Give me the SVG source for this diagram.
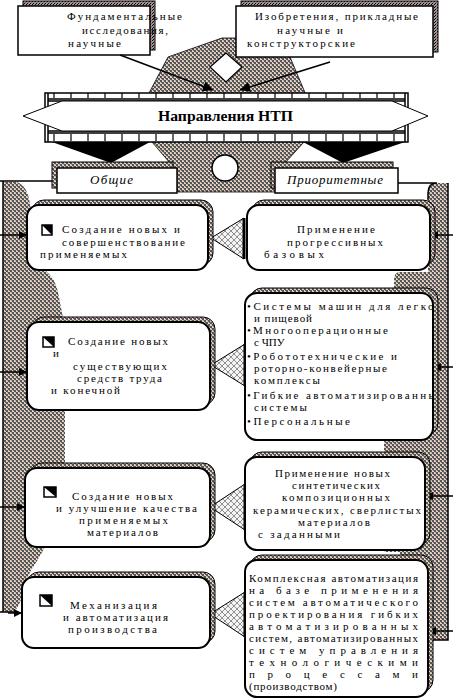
<svg xmlns="http://www.w3.org/2000/svg" width="453" height="700" viewBox="0 0 453 700">
<style>
text{font-family:"Liberation Serif","DejaVu Serif","Times New Roman",serif;font-size:11px;fill:#000}
.it{font-style:italic;font-size:13px}
.b{font-weight:bold;font-size:14px}
.box{fill:#fff;stroke:#000;stroke-width:2}
.sh{fill:url(#stip);stroke:#000;stroke-width:1}
.tbox{fill:#fff;stroke:#000;stroke-width:1.5}
.tsh{fill:url(#dstip);stroke:#000;stroke-width:1}
.con{fill:url(#hatch);stroke:#000;stroke-width:1}
.base{stroke:#000;stroke-width:3;fill:none}
.ln{stroke:#000;stroke-width:1.5;fill:none}
.ico{fill:#fff;stroke:#000;stroke-width:1.5}
.gray{fill:url(#stip)}
.tick{stroke:#000;stroke-width:1.2}
</style>
<defs>
<pattern id="stip" width="4" height="4" patternUnits="userSpaceOnUse">
<rect width="4" height="4" fill="#d6d6d6"/>
<rect width="2" height="2" fill="#555"/>
<rect x="2" y="2" width="2" height="2" fill="#555"/>
<rect x="1" y="2" width="1" height="1" fill="#c04848"/>
<rect x="3" y="0" width="1" height="1" fill="#b8b048"/>
</pattern>
<pattern id="dstip" width="3" height="3" patternUnits="userSpaceOnUse">
<rect width="3" height="3" fill="#9a9a9a"/>
<rect width="1" height="1" fill="#000"/>
<rect x="2" y="1" width="1" height="1" fill="#000"/>
<rect x="1" y="2" width="1" height="1" fill="#c04848"/>
</pattern>
<pattern id="hatch" width="6" height="6" patternUnits="userSpaceOnUse">
<rect width="6" height="6" fill="#f4f4f4"/>
<path d="M0,0 L6,6 M6,0 L0,6" stroke="#777" stroke-width="0.8"/>
</pattern>
<marker id="ah" viewBox="0 0 10 10" refX="10" refY="5" markerWidth="10" markerHeight="8" markerUnits="userSpaceOnUse" orient="auto">
<path d="M0,0 L10,5 L0,10 z" fill="#000"/>
</marker>
<marker id="ah2" viewBox="0 0 10 10" refX="10" refY="5" markerWidth="14" markerHeight="10" markerUnits="userSpaceOnUse" orient="auto">
<path d="M0,0 L10,5 L0,10 z" fill="#000"/>
</marker>
<clipPath id="r2clip"><rect x="240" y="295" width="193" height="140"/></clipPath>
</defs>

<g id="background">
<path class="gray" d="M3,182 L17,182 Q28,186 30,205 L45,270 Q55,278 58,292 L63,318 L65,330 L65,465 L60,470 L45,547 Q38,560 30,572 L24,590 Q20,606 14,612 L3,612 Z"/>
<path class="gray" d="M448,183 L437,183 Q428,183 428,195 L428,272 L400,272 Q394,272 394,280 L394,440 L384,440 L384,552 L400,552 L400,640 L448,640 Z"/>
<path class="ln" d="M0,181 L52,181 M3,181 L3,612 M0,612 L14,612"/>
<path class="ln" d="M398,183 L437,183 Q428,183 428,193 L428,200 M448,183 L448,640 L430,640"/>
</g>

<g id="spine">
<path class="gray" stroke="#000" stroke-width="0.8" d="M222,38 L238,38 L290,57 L306,95 L304,142 L285,163 L275,192 L178,192 L170,163 L152,142 L148,95 L168,57 Z"/>
<circle cx="225" cy="168" r="13" fill="#fff" stroke="#000" stroke-width="1.5"/>
<path d="M226,53 L242,67 L226,82 L210,67 Z" fill="#fff" stroke="#000" stroke-width="1.2"/>
</g>

<g id="banner">
<path d="M52,142 L150,142 L111,163 Z" fill="#000"/>
<path d="M303,142 L405,142 L343,163 Z" fill="#000"/>
<rect x="45" y="93" width="363" height="49" fill="#fff" stroke="#000" stroke-width="1.5"/>
<path class="ln" d="M48,93 L48,142 M405,93 L405,142 M48,99 L405,99 M48,101 L405,101 M48,131 L405,131 M48,133 L405,133"/>
<path class="tick" d="M54,93v5M71,93v5M88,93v5M105,93v5M122,93v5M139,93v5M156,93v5M173,93v5M190,93v5M207,93v5M224,93v5M241,93v5M258,93v5M275,93v5M292,93v5M309,93v5M326,93v5M343,93v5M360,93v5M377,93v5M394,93v5M54,134v7M71,134v7M88,134v7M105,134v7M122,134v7M139,134v7M156,134v7M173,134v7M190,134v7M207,134v7M224,134v7M241,134v7M258,134v7M275,134v7M292,134v7M309,134v7M326,134v7M343,134v7M360,134v7M377,134v7M394,134v7"/>
<path d="M23,116 L62,101 L392,101 L428,116 L392,131 L62,131 Z" fill="#fff" stroke="#000" stroke-width="1"/>
<text class="b" x="158" y="121" textLength="135" lengthAdjust="spacingAndGlyphs">Направления НТП</text>
</g>

<g id="general">
<rect x="52" y="162" width="121" height="26" class="sh"/>
<rect x="57" y="168" width="120" height="25" class="tbox"/>
<text class="it" x="90" y="184" textLength="43">Общие</text>
</g>
<g id="priority">
<rect x="271" y="162" width="122" height="26" class="sh"/>
<rect x="275" y="168" width="123" height="25" class="tbox"/>
<text class="it" x="287" y="184" textLength="96">Приоритетные</text>
</g>

<g id="fundamental">
<rect x="23" y="1" width="132" height="49" class="tsh"/>
<rect x="18" y="6" width="132" height="49" class="tbox"/>
<text x="67" y="20" textLength="115">Фундаментальные</text>
<text x="82" y="34" textLength="86">исследования,</text>
<text x="68" y="47" textLength="53">научные</text>
</g>
<g id="inventions">
<rect x="241" y="1" width="197" height="51" class="tsh"/>
<rect x="236" y="6" width="197" height="51" class="tbox"/>
<text x="255" y="20" textLength="163">Изобретения, прикладные</text>
<text x="277" y="34" textLength="66">научные и</text>
<text x="247" y="47" textLength="108">конструкторские</text>
</g>

<g id="connectors">
<path class="ln" d="M120,55 L213,90" marker-end="url(#ah2)" stroke-width="1.8"/>
<path class="ln" d="M330,62 L240,90" marker-end="url(#ah2)" stroke-width="1.8"/>
<path class="ln" d="M0,235 L27,235" marker-end="url(#ah)"/>
<path class="ln" d="M0,372 L27,372" marker-end="url(#ah)"/>
<path class="ln" d="M0,507 L25,507" marker-end="url(#ah)"/>
<path class="ln" d="M8,613 L22,613" marker-end="url(#ah)"/>
<path class="ln" d="M453,235 L430,235" marker-end="url(#ah)"/>
<path class="ln" d="M453,367 L433,367" marker-end="url(#ah)"/>
<path class="ln" d="M453,496 L425,496" marker-end="url(#ah)"/>
<path class="ln" d="M453,631 L428,631" marker-end="url(#ah)"/>
<path class="con" d="M211,238 L244,218 L244,259 Z"/>
<path class="base" d="M244,218 L244,259"/>
<path class="con" d="M211,365 L245,344 L245,386 Z"/>
<path class="base" d="M245,344 L245,386"/>
<path class="con" d="M210,507 L245,484 L245,530 Z"/>
<path class="base" d="M245,484 L245,530"/>
<path class="con" d="M210,614 L245,592 L245,637 Z"/>
<path class="base" d="M245,592 L245,637"/>
</g>

<g id="L1">
<rect x="32" y="200" width="181" height="65" rx="12" class="sh"/>
<rect x="27" y="205" width="181" height="65" rx="12" class="box"/>
<rect x="42" y="225" width="10" height="10" class="ico"/><path d="M42,225 L52,225 L52,235 Z"/>
<text x="62" y="233" textLength="118">Создание новых и</text>
<text x="62" y="246" textLength="123">совершенствование</text>
<text x="40" y="258" textLength="87">применяемых</text>
</g>
<g id="R1">
<rect x="252" y="200" width="183" height="65" rx="12" class="sh"/>
<rect x="247" y="205" width="183" height="65" rx="12" class="box"/>
<text x="297" y="233" textLength="78">Применение</text>
<text x="287" y="246" textLength="96">прогрессивных</text>
<text x="264" y="258" textLength="60">базовых</text>
</g>

<g id="L2">
<rect x="32" y="317" width="183" height="88" rx="12" class="sh"/>
<rect x="27" y="322" width="183" height="88" rx="12" class="box"/>
<rect x="43" y="337" width="11" height="10" class="ico"/><path d="M43,337 L54,337 L54,347 Z"/>
<text x="68" y="345" textLength="100">Создание новых</text>
<text x="53" y="357">и</text>
<text x="73" y="370" textLength="94">существующих</text>
<text x="77" y="382" textLength="85">средств труда</text>
<text x="51" y="394" textLength="69">и конечной</text>
</g>
<g id="R2">
<rect x="250" y="288" width="188" height="147" rx="12" class="sh"/>
<rect x="245" y="293" width="188" height="147" rx="12" class="box"/>
<g clip-path="url(#r2clip)">
<text x="247" y="310" textLength="195">•Системы машин для легкой</text>
<text x="254" y="322" textLength="58">и пищевой</text>
<text x="247" y="334" textLength="141">•Многооперационные</text>
<text x="254" y="346">с ЧПУ</text>
<text x="247" y="360" textLength="150">•Робототехнические и</text>
<text x="254" y="372" textLength="133">роторно-конвейерные</text>
<text x="254" y="384" textLength="66">комплексы</text>
<text x="247" y="399" textLength="196">•Гибкие автоматизированные</text>
<text x="254" y="411" textLength="53">системы</text>
<text x="247" y="425" textLength="103">•Персональные</text>
</g>
</g>

<g id="L3">
<rect x="30" y="463" width="185" height="79" rx="12" class="sh"/>
<rect x="25" y="468" width="185" height="79" rx="12" class="box"/>
<rect x="44" y="487" width="12" height="10" class="ico"/><path d="M44,487 L56,487 L56,497 Z"/>
<text x="72" y="500" textLength="101">Создание новых</text>
<text x="56" y="512" textLength="141">и улучшение качества</text>
<text x="79" y="524" textLength="89">применяемых</text>
<text x="87" y="536" textLength="71">материалов</text>
</g>
<g id="R3">
<rect x="250" y="452" width="180" height="93" rx="12" class="sh"/>
<rect x="245" y="457" width="180" height="93" rx="12" class="box"/>
<text x="275" y="477" textLength="115">Применение новых</text>
<text x="292" y="489" textLength="88">синтетических</text>
<text x="282" y="501" textLength="108">композиционных</text>
<text x="253" y="514" textLength="168">керамических, сверлистых</text>
<text x="298" y="526" textLength="72">материалов</text>
<text x="258" y="538" textLength="82">с заданными</text>
</g>

<g id="L4">
<rect x="27" y="572" width="188" height="71" rx="12" class="sh"/>
<rect x="22" y="577" width="188" height="71" rx="12" class="box"/>
<rect x="40" y="595" width="12" height="11" class="ico"/><path d="M40,595 L52,595 L52,606 Z"/>
<text x="70" y="609" textLength="87">Механизация</text>
<text x="63" y="621" textLength="105">и автоматизация</text>
<text x="68" y="633" textLength="89">производства</text>
</g>
<g id="R4">
<rect x="250" y="555" width="183" height="137" rx="12" class="sh"/>
<rect x="245" y="560" width="183" height="137" rx="12" class="box"/>
<text x="249" y="582" textLength="169" lengthAdjust="spacing">Комплексная автоматизация</text>
<text x="249" y="594" textLength="169" lengthAdjust="spacing">на базе применения</text>
<text x="249" y="606" textLength="169" lengthAdjust="spacing">систем автоматического</text>
<text x="249" y="618" textLength="169" lengthAdjust="spacing">проектирования гибких</text>
<text x="249" y="630" textLength="169" lengthAdjust="spacing">автоматизированных</text>
<text x="249" y="642" textLength="169" lengthAdjust="spacing">систем, автоматизированных</text>
<text x="249" y="654" textLength="169" lengthAdjust="spacing">систем управления</text>
<text x="249" y="666" textLength="169" lengthAdjust="spacing">технологическими</text>
<text x="249" y="678" textLength="169" lengthAdjust="spacing">процессами</text>
<text x="249" y="690" textLength="88">(производством)</text>
</g>
</svg>
